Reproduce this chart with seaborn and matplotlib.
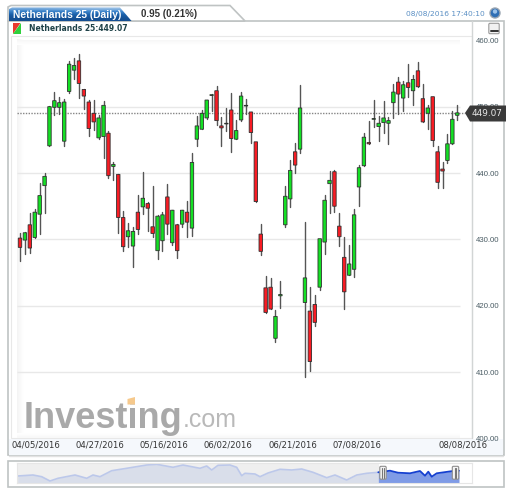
import numpy as np
import pandas as pd
import matplotlib
matplotlib.use("Agg")
import matplotlib.pyplot as plt
from matplotlib.patches import Polygon, Rectangle, FancyBboxPatch, Circle
import seaborn as sns

# daily candles
opens = [430.2, 429.9, 432.2, 430.3, 433.8, 438.1, 444.1, 449.9, 449.9, 444.8,
         452.3, 455.5, 456.9, 452.6, 450.7, 449.0, 445.3, 445.5, 446.0, 441.0,
         439.8, 433.3, 430.4, 429.0, 434.1, 434.9, 435.4, 431.9, 428.3, 429.8,
         436.4, 429.5, 432.2, 432.3, 434.1, 431.7, 445.1, 446.6, 448.3, 451.7,
         452.4, 447.1, 447.4, 449.5, 445.1, 448.0, 450.1, 449.2, 444.7, 430.8,
         422.7, 422.8, 415.1, 421.5, 432.2, 436.1, 443.2, 443.6, 420.5, 419.2,
         420.2, 422.8, 429.6, 438.4, 440.2, 432.0, 427.3, 424.6, 425.5, 437.9,
         441.1, 444.6, 448.1, 447.0, 447.6, 447.5, 450.6, 453.7, 451.3, 453.6,
         452.4, 455.4, 451.2, 449.0, 451.5, 443.2, 440.6, 441.9, 444.4, 448.7]
highs = [430.9, 431.1, 434.0, 434.6, 438.5, 440.0, 450.1, 452.2, 451.4, 451.2,
         456.9, 457.4, 457.9, 452.7, 451.0, 451.0, 448.8, 450.8, 446.3, 441.6,
         439.9, 434.3, 432.4, 431.8, 436.7, 440.1, 435.7, 438.1, 433.7, 434.2,
         438.3, 434.4, 432.3, 434.5, 435.8, 443.0, 448.6, 449.5, 451.0, 451.9,
         453.1, 448.4, 449.8, 452.0, 448.0, 452.2, 451.2, 449.2, 444.7, 432.3,
         424.5, 424.2, 419.4, 423.8, 438.0, 442.0, 444.5, 453.3, 432.6, 422.8,
         421.6, 430.1, 436.7, 440.3, 440.4, 434.0, 430.4, 429.2, 434.6, 441.2,
         446.1, 447.9, 451.0, 448.6, 450.8, 448.5, 453.4, 454.5, 453.8, 456.4,
         454.8, 456.8, 453.4, 450.3, 451.5, 444.1, 441.6, 445.9, 449.3, 450.3]
lows = [426.8, 427.8, 427.9, 430.2, 430.8, 434.0, 444.0, 448.8, 448.9, 444.1,
        452.1, 454.1, 451.3, 449.6, 445.6, 446.5, 445.2, 442.2, 439.3, 439.0,
        431.0, 428.3, 428.9, 425.8, 430.8, 433.8, 431.3, 430.3, 427.0, 428.3,
        430.8, 429.2, 427.2, 431.9, 430.4, 430.5, 444.0, 446.6, 448.1, 449.4,
        447.3, 444.1, 446.4, 443.1, 445.1, 447.8, 448.9, 444.6, 435.6, 427.7,
        418.9, 419.5, 414.5, 419.6, 431.9, 434.9, 440.0, 443.0, 409.2, 410.2,
        417.0, 422.4, 427.8, 434.0, 434.2, 429.0, 419.5, 424.6, 424.3, 435.0,
        441.0, 444.4, 447.0, 444.9, 446.1, 444.3, 448.3, 448.9, 449.4, 451.4,
        450.3, 452.9, 447.7, 446.7, 444.0, 437.8, 437.8, 441.5, 444.3, 448.0]
closes = [428.8, 431.0, 428.7, 434.1, 436.6, 439.5, 450.0, 450.9, 450.6, 450.7,
          456.4, 456.2, 453.5, 451.6, 446.7, 447.7, 448.3, 450.2, 439.6, 441.3,
          433.3, 428.9, 431.3, 431.2, 431.5, 436.2, 434.7, 430.9, 433.5, 433.7,
          432.3, 434.4, 428.3, 434.4, 432.6, 441.6, 447.1, 449.0, 451.0, 451.8,
          447.9, 446.8, 447.5, 445.2, 446.4, 451.6, 450.2, 446.1, 435.7, 428.2,
          419.0, 419.5, 418.4, 421.7, 436.5, 440.4, 441.2, 449.8, 424.2, 411.6,
          417.5, 430.1, 435.9, 438.9, 435.0, 430.4, 422.1, 426.3, 433.7, 440.8,
          445.4, 444.4, 448.2, 447.5, 448.3, 447.9, 452.2, 451.9, 453.3, 452.9,
          454.1, 453.0, 447.7, 449.8, 444.9, 438.6, 440.3, 444.4, 448.1, 449.07]

price_ticks = [460, 450, 440, 430, 420, 410, 400]
date_pos = [3.25, 16.3, 29.3, 42.3, 55.5, 68.5, 90.2]
date_labels = ["04/05/2016", "04/27/2016", "05/16/2016", "06/02/2016",
               "06/21/2016", "07/08/2016", "08/08/2016"]
last_price = 449.07

# overview strip at the bottom
overview_pos = [0.7, 16, 24.7, 33, 41, 58, 69.7, 76, 83, 94.7, 109.7, 129.7, 139.7,
                156, 166, 183, 189.7, 194.7, 201, 213, 219.7, 224.7, 228, 238, 243,
                251, 263, 274.7, 284.7, 296, 309.7, 318, 329.7, 339.7, 349.7, 361.3,
                373, 381, 393, 403, 408, 411.3, 414.7, 419.7, 436, 442]
overview_val = [7, 8, 6.3, 2, 4.7, 8, 4.7, 8, 6.3, 12.3, 14.7, 18, 18.7,
                15.7, 18, 14.7, 17, 13, 17.7, 18, 15.7, 7.3, 9.7, 9, 6.3,
                10, 13.7, 13, 14, 10.7, 5.3, 8, 3, 8, 9.7, 10.7,
                12.3, 10.3, 9.7, 12, 7.3, 11.3, 6.3, 9.7, 12, 12.3]
overview_split = 362

sns.set_theme(style="white")
plt.rcParams["font.family"] = ["Liberation Sans", "DejaVu Sans"]

W, H = 512, 494
fig = plt.figure(figsize=(W / 100, H / 100), dpi=100, facecolor="white")


def px_axes(left, top, right, bottom, **kw):
    return fig.add_axes([left / W, 1 - bottom / H, (right - left) / W, (bottom - top) / H], **kw)


# --- panel furniture, in pixel coordinates ---
bg = px_axes(0, 0, W, H, zorder=0)
bg.set_xlim(0, W)
bg.set_ylim(H, 0)
bg.axis("off")

frame = "#bfc3c3"
bg.add_patch(Rectangle((8, 21), 496, 434, fc="white", ec=frame, lw=1.2))
bg.add_patch(Rectangle((11, 36), 461, 402, fc="white", ec="#e8e8e8", lw=0.8))
bg.add_patch(Rectangle((9, 438.5), 494, 16, fc="#f5f8fc", ec="none"))
bg.plot([472, 472], [21, 438], color="#d2d5d5", lw=1)
bg.plot([9, 503], [456, 456], color="#e2e2e2", lw=1)

# soft shading along the inside of the plot area
fade = np.linspace(0, 1, 32).reshape(1, -1)
bg.imshow(fade, extent=(17, 24, 438, 40), cmap="gray", vmin=-22, vmax=1, aspect="auto", zorder=1)
bg.imshow(fade.T, extent=(17, 460, 45, 40), cmap="gray", vmin=-28, vmax=1, aspect="auto", zorder=1)
bg.imshow(fade.T[::-1], extent=(17, 460, 438, 433), cmap="gray", vmin=-30, vmax=1, aspect="auto", zorder=1)
bg.set_xlim(0, W)
bg.set_ylim(H, 0)

# tabs
bg.add_patch(Polygon([(8, 21), (8, 7), (11, 5.5), (230, 5.5), (245, 21)], closed=True,
                     fc="white", ec=frame, lw=1.2, zorder=2))
tab = Polygon([(9, 21.5), (9, 9), (12, 7.5), (120, 7.5), (132, 21.5)], closed=True,
              fc="none", ec="none", zorder=3)
bg.add_patch(tab)
grad = np.array([[0.15, 0.05], [0.5, 0.45], [0.85, 0.8], [1.0, 1.0]])
im = bg.imshow(grad, extent=(9, 132, 21.5, 7.5), aspect="auto", zorder=3,
               cmap=matplotlib.colors.LinearSegmentedColormap.from_list(
                   "tab", ["#8fb9e2", "#3f86cc", "#1c62ac", "#154f92"]),
               interpolation="bilinear", origin="upper")
im.set_clip_path(tab)
bg.set_xlim(0, W)
bg.set_ylim(H, 0)
bg.text(13, 14.5, "Netherlands 25 (Daily)", color="white", fontsize=7.4, fontweight="bold",
        va="center", ha="left", zorder=4)
bg.text(141, 14, "0.95 (0.21%)", color="#333333", fontsize=7, fontweight="bold",
        va="center", ha="left", zorder=4)
bg.text(485, 14, "08/08/2016 17:40:10", color="#5a8fc4", fontsize=5.4,
        family="DejaVu Sans", va="center", ha="right", zorder=4)
bg.add_patch(Circle((495, 13), 5, fc="#2f6fb5", ec="#9aa6b2", lw=1, zorder=4))
bg.add_patch(Circle((495, 11.5), 2.2, fc="#9cc3ea", ec="none", zorder=5))

# header line
bg.add_patch(Polygon([(13, 23), (20.5, 23), (13, 34)], closed=True, fc="#e8392f", ec="none"))
bg.add_patch(Polygon([(20.5, 23), (20.5, 34), (13, 34)], closed=True, fc="#2fd03c", ec="none"))
bg.text(29, 28.7, "Netherlands 25:449.07", color="#1f4248", fontsize=5.5, fontweight="bold",
        family="DejaVu Sans", va="center", ha="left")

# watermark
bg.text(24, 427.5, "Investing", color="#a9a9a9", fontsize=26, fontweight="bold", va="baseline", ha="left")
bg.text(183, 427, ".com", color="#b9b9b9", fontsize=18, va="baseline", ha="left")
bg.add_patch(Polygon([(127.5, 399), (135, 397), (135, 404.5), (127.5, 404.5)], closed=True,
                     fc="#f6c98c", ec="none", zorder=3))

# overview frame
bg.add_patch(Rectangle((8, 460.5), 496, 26, fc="white", ec=frame, lw=1.2))

# --- candles ---
candles = pd.DataFrame({"day": range(len(opens)), "open": opens, "high": highs,
                        "low": lows, "close": closes})
candles["bottom"] = candles[["open", "close"]].min(axis=1)
candles["body"] = (candles["close"] - candles["open"]).abs()
wicks = candles.melt(id_vars="day", value_vars=["low", "high"], value_name="price")

ax = px_axes(17, 40.3, 472, 438.5, zorder=1)
ax.patch.set_alpha(0)

x_end = (460 - 20) / 4.913
ax.hlines(price_ticks[1:-1], -0.61, x_end, color="#e8e8e8", lw=1, zorder=0)
ax.hlines(last_price, -0.61, x_end + 1, color="#858585", lw=1, ls=(0, (1, 1)), zorder=0.5)

sns.lineplot(data=wicks, x="day", y="price", units="day", estimator=None, sort=False,
             color="#555555", lw=1, legend=False, ax=ax, zorder=2)

up = candles[candles["close"] >= candles["open"]]
down = candles[candles["close"] < candles["open"]]
for part, colour in [(up, "#14e024"), (down, "#f81c24")]:
    sns.barplot(data=part, x="day", y="body", bottom=part["bottom"], native_scale=True,
                orient="x", width=0.7, color=colour, saturation=1, edgecolor="#303030",
                linewidth=0.6, ax=ax, zorder=3)
# even widths: no snapping of the bodies to whole pixels
for body in ax.patches:
    body.set_snap(False)

ax.set_xlim(-0.61, (472 - 20) / 4.913)
ax.set_ylim(400, 460)
ax.set_xlabel("")
ax.set_ylabel("")
ax.yaxis.tick_right()
ax.set_yticks(price_ticks)
ax.set_yticklabels([f"{p:.2f}" for p in price_ticks], fontsize=5.6, color="#4a5c64")
ax.set_xticks(date_pos)
ax.set_xticklabels(date_labels, fontsize=6.1, color="#333333", family="DejaVu Sans")
ax.tick_params(axis="y", length=0, pad=2.5)
ax.tick_params(axis="x", length=0, pad=1.5)
for s in ax.spines.values():
    s.set_visible(False)

# --- overview strip ---
ov = px_axes(17, 463, 472, 483, zorder=1)
ov.set_facecolor("white")
ov.add_patch(Rectangle((0, 0), overview_split, 20, fc="#efefef", ec="none", zorder=0))
pos = np.array(overview_pos)
val = np.array(overview_val)
left = pos <= overview_split + 1
right = pos >= overview_split - 1
ov.fill_between(pos[left], val[left], 0, color="#d9deea", lw=0, zorder=1)
ov.fill_between(pos[right], val[right], 0, color="#7f9be6", lw=0, zorder=1)
sns.lineplot(x=pos[left], y=val[left], color="#bcc8ea", lw=1.2, sort=False, ax=ov, zorder=2)
sns.lineplot(x=pos[right], y=val[right], color="#1540d0", lw=1.3, sort=False, ax=ov, zorder=2)
ov.set_xlim(0, 455)
ov.set_ylim(0, 20)
ov.set_xticks([])
ov.set_yticks([])
ov.set_xlabel("")
ov.set_ylabel("")
for s in ov.spines.values():
    s.set_color("#e6e6e6")
    s.set_linewidth(0.8)

# --- things on top: price flag, minimise button, overview handles ---
fg = px_axes(0, 0, W, H, zorder=3)
fg.set_xlim(0, W)
fg.set_ylim(H, 0)
fg.axis("off")
fg.patch.set_alpha(0)
fg.add_patch(Polygon([(465, 113), (470, 105.5), (506, 105.5), (506, 121.5), (470, 121.5)],
                     closed=True, fc="#3a3a3a", ec="none"))
fg.text(487.5, 113.5, "449.07", color="#e8e8e8", fontsize=6.4, family="DejaVu Sans",
        va="center", ha="center")
fg.add_patch(FancyBboxPatch((490, 24.5), 8, 8, boxstyle="round,pad=1.2", fc="#f1f1f1", ec="#9a9a9a", lw=0.8))
fg.plot([490.5, 497.5], [31, 31], color="#333333", lw=1.4)
for hx in [383, 455.5]:
    fg.add_patch(FancyBboxPatch((hx - 2, 467.5), 4, 10.5, boxstyle="round,pad=1.2",
                                fc="#f4f4f4", ec="#8d8d8d", lw=0.8))
    fg.plot([hx - 0.9, hx - 0.9], [468, 478], color="#777777", lw=0.8)
    fg.plot([hx + 0.9, hx + 0.9], [468, 478], color="#777777", lw=0.8)

plt.savefig("out.png", dpi=100)
plt.close()
